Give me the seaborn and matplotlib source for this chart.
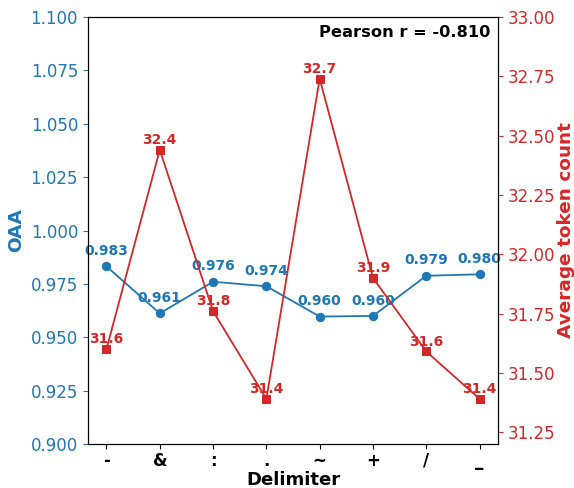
import matplotlib
matplotlib.use("Agg")
import matplotlib.pyplot as plt
import seaborn as sns
import pandas as pd
import numpy as np

delimiters = ["-", "&", ":", ".", "~", "+", "/", "_"]
oaa = [0.9832, 0.9612, 0.9760, 0.9739, 0.9597, 0.9600, 0.9788, 0.9795]
tokens = [31.60, 32.44, 31.76, 31.39, 32.74, 31.90, 31.59, 31.39]
pearson_r = -0.810

blue = "#1f77b4"
red = "#d62728"

df = pd.DataFrame({"pos": np.arange(len(delimiters)), "delim": delimiters,
                   "oaa": oaa, "tokens": tokens})

fig, ax1 = plt.subplots(figsize=(5.74, 4.88), dpi=100)
fig.subplots_adjust(left=0.153, right=0.868, top=0.965, bottom=0.0902)

sns.lineplot(data=df, x="pos", y="oaa", ax=ax1, color=blue, marker="o",
             markersize=6, markeredgecolor=blue, linewidth=1.3, sort=False)
ax2 = ax1.twinx()
sns.lineplot(data=df, x="pos", y="tokens", ax=ax2, color=red, marker="s",
             markersize=6, markeredgecolor=red, linewidth=1.3, sort=False)

for x, v in zip(df["pos"], df["oaa"]):
    ax1.annotate(f"{v:.3f}", (x, v), xytext=(0, 6), textcoords="offset points",
                 ha="center", va="bottom", color=blue, fontsize=10, fontweight="bold")
for x, v in zip(df["pos"], df["tokens"]):
    ax2.annotate(f"{v:.1f}", (x, v), xytext=(0, 2), textcoords="offset points",
                 ha="center", va="bottom", color=red, fontsize=10, fontweight="bold")

ax1.set_ylim(0.9, 1.1)
ax2.set_ylim(31.2, 33.0)
ax1.set_yticks(np.arange(0.9, 1.1001, 0.025))
ax1.set_yticklabels([f"{t:.3f}" for t in np.arange(0.9, 1.1001, 0.025)])
ax2.set_yticks(np.arange(31.25, 33.001, 0.25))
ax2.set_yticklabels([f"{t:.2f}" for t in np.arange(31.25, 33.001, 0.25)])

ax1.set_xticks(df["pos"])
ax1.set_xticklabels(delimiters, fontsize=12, fontweight="bold")
ax1.tick_params(axis="x", pad=2)
ax1.set_xlabel("Delimiter", fontsize=13, fontweight="bold", labelpad=1)
ax1.set_ylabel("OAA", fontsize=13.3, fontweight="bold", color=blue, labelpad=4)
ax2.set_ylabel("Average token count", fontsize=13.3, fontweight="bold", color=red, labelpad=1)
ax1.tick_params(axis="y", colors=blue, labelsize=12)
ax2.tick_params(axis="y", colors=red, labelsize=12)
for sp in ax1.spines.values():
    sp.set_color("black")
for sp in ax2.spines.values():
    sp.set_color("black")

ax1.text(0.98, 0.982, f"Pearson r = {pearson_r:.3f}", transform=ax1.transAxes,
         ha="right", va="top", fontsize=11.7, fontweight="bold", color="black")

fig.savefig("out.png", dpi=100)
